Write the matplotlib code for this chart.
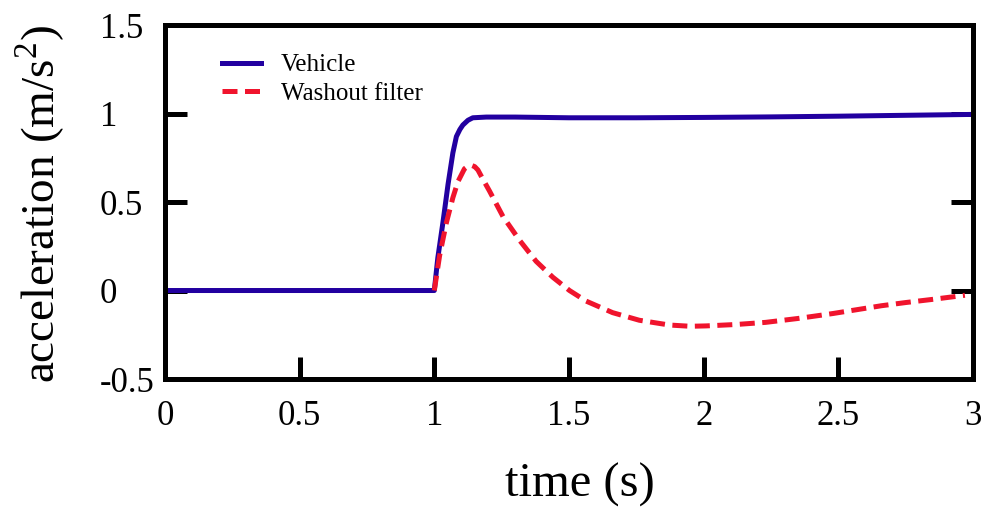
import numpy as np
import matplotlib.pyplot as plt

plt.rcParams['font.family'] = 'Liberation Serif'
plt.rcParams['mathtext.fontset'] = 'custom'
plt.rcParams['mathtext.rm'] = 'Liberation Serif'

t_vehicle = [0, 1.0, 1.013, 1.032, 1.051, 1.069, 1.082, 1.095, 1.106, 1.125, 1.143, 1.193,
             1.3, 1.5, 1.75, 2.0, 2.25, 2.5, 2.75, 3.0]
a_vehicle = [0, 0, 0.184, 0.384, 0.600, 0.778, 0.870, 0.910, 0.935, 0.962, 0.976, 0.980,
             0.980, 0.976, 0.976, 0.978, 0.981, 0.985, 0.990, 0.995]

t_washout = [1.0, 1.02, 1.045, 1.069, 1.088, 1.112, 1.125, 1.137, 1.15, 1.162, 1.18, 1.205,
             1.255, 1.316, 1.378, 1.44, 1.502, 1.564, 1.662, 1.761, 1.873, 1.95, 2.009,
             2.12, 2.23, 2.35, 2.48, 2.57, 2.66, 2.75, 2.85, 2.97]
a_washout = [0, 0.2, 0.384, 0.525, 0.616, 0.688, 0.703, 0.708, 0.700, 0.681, 0.63, 0.562,
             0.418, 0.285, 0.165, 0.075, 0.0, -0.06, -0.125, -0.168, -0.195, -0.202, -0.2,
             -0.192, -0.18, -0.158, -0.13, -0.108, -0.086, -0.068, -0.05, -0.027]

fig = plt.figure(figsize=(9.89, 5.11), dpi=100)
ax = fig.add_axes([0.1668, 0.2583, 0.817, 0.6927])

ax.plot(t_vehicle, a_vehicle, color='#2200a0', lw=3.6, label='Vehicle')
ax.plot(t_washout, a_washout, color='#f0142d', lw=3.6, dashes=(3, 1.5),
        label='Washout filter')

ax.set_xlim(0, 3)
ax.set_ylim(-0.5, 1.5)
ax.set_xticks(np.arange(0, 3.01, 0.5), ['0', '0.5', '1', '1.5', '2', '2.5', '3'])
ax.set_yticks([-0.5, 0, 0.5, 1, 1.5], ['-0.5', '0', '0.5', '1', '1.5'])

for s in ax.spines.values():
    s.set_linewidth(3.6)
ax.tick_params(direction='in', length=16, width=3.6, labelsize=25)
ax.tick_params(axis='y', right=True, pad=47)
ax.tick_params(axis='x', pad=15)
for lab in ax.get_yticklabels():
    lab.set_horizontalalignment('left')

ax.set_xlabel('time (s)', fontsize=35)
ax.set_ylabel('acceleration (m/s$^2$)', fontsize=34)
ax.xaxis.set_label_coords(0.514, -0.30)
ax.xaxis.label.set_va('center')
ax.yaxis.set_label_coords(-0.155, 0.495)
ax.yaxis.label.set_va('center')

ax.legend(loc='upper left', bbox_to_anchor=(0.0425, 0.982), frameon=False, fontsize=18,
          handlelength=1.56, handletextpad=0.8, labelspacing=0.25)

fig.savefig('out.png')
